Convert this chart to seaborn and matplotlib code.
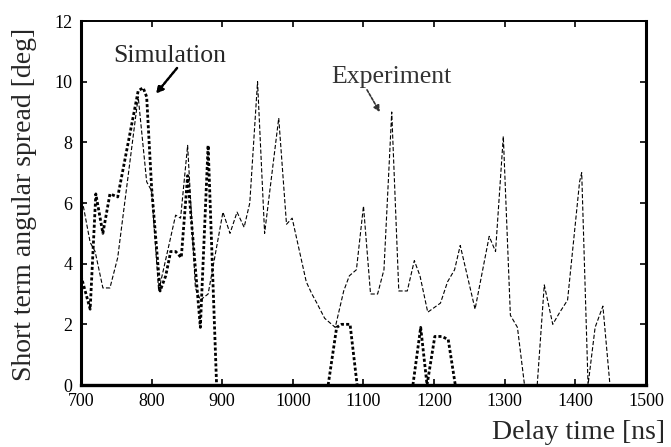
import matplotlib
matplotlib.use("Agg")
import matplotlib.pyplot as plt
import seaborn as sns
import pandas as pd

# Experiment (thin dashed); seg = continuous piece above the axis
exp_t = [700, 713, 720, 731, 741, 752, 781, 793, 800, 810, 834, 841, 851, 862, 869, 880,
         901, 911, 921, 931, 939, 950, 960, 980, 991, 999, 1019, 1027, 1034, 1045, 1060,
         1072, 1080, 1090, 1100, 1110, 1120, 1129, 1140, 1150, 1162, 1172, 1180, 1191,
         1209, 1219, 1229, 1237, 1258, 1278, 1287, 1298, 1308, 1318, 1328, 1346, 1356,
         1368, 1378, 1389, 1406, 1409, 1418, 1428, 1439, 1449]
exp_v = [6.3, 4.7, 4.4, 3.2, 3.2, 4.2, 9.5, 6.7, 6.4, 3.1, 5.6, 5.5, 7.9, 3.2, 2.8, 3.0,
         5.7, 5.0, 5.7, 5.2, 6.0, 10.0, 5.0, 8.8, 5.3, 5.5, 3.4, 3.0, 2.7, 2.2, 1.9,
         3.1, 3.6, 3.8, 5.9, 3.0, 3.0, 3.8, 9.0, 3.1, 3.1, 4.1, 3.6, 2.4,
         2.7, 3.4, 3.8, 4.6, 2.5, 4.9, 4.4, 8.2, 2.3, 1.9, 0, 0, 3.3,
         2.0, 2.4, 2.8, 6.7, 7.0, 0, 1.9, 2.6, 0]
exp_seg = [1] * 55 + [2] * 11

# Simulation (thick dashed)
sim_t = [700, 713, 721, 731, 741, 752, 781, 788, 793, 800, 812, 820, 827, 834, 842, 851,
         869, 880, 892, 1050, 1062, 1069, 1081, 1091, 1170, 1181, 1190, 1201, 1211, 1220, 1230]
sim_v = [3.6, 2.5, 6.3, 5.0, 6.3, 6.2, 9.7, 9.8, 9.5, 6.5, 3.1, 3.6, 4.4, 4.4, 4.2, 6.9,
         1.9, 7.9, 0, 0, 1.9, 2.0, 2.0, 0, 0, 1.9, 0, 1.6, 1.6, 1.5, 0]
sim_seg = [1] * 19 + [2] * 5 + [3] * 7

x_ticks = [700, 800, 900, 1000, 1100, 1200, 1300, 1400, 1500]
y_ticks = [0, 2, 4, 6, 8, 10, 12]

sns.set_style("ticks")
plt.rcParams['font.family'] = ['Liberation Serif', 'DejaVu Serif']
plt.rcParams['lines.scale_dashes'] = False

fig = plt.figure(figsize=(6.71, 4.47), dpi=100)
ax = fig.add_axes([0.1207, 0.1387, 0.842, 0.8143])

df_exp = pd.DataFrame({"t": exp_t, "v": exp_v, "seg": exp_seg})
df_sim = pd.DataFrame({"t": sim_t, "v": sim_v, "seg": sim_seg})

sns.lineplot(data=df_exp, x="t", y="v", units="seg", ax=ax, color="black", linewidth=0.8,
             linestyle=(0, (3, 1.5)), estimator=None, sort=False)
sns.lineplot(data=df_sim, x="t", y="v", units="seg", ax=ax, color="black", linewidth=2.0,
             linestyle=(0, (2.2, 1.6)), estimator=None, sort=False)

ax.set_xlim(700, 1500)
ax.set_ylim(0, 12)
ax.set_xticks(x_ticks)
ax.set_yticks(y_ticks)
ax.tick_params(direction="in", length=4, width=1.2, top=True, right=True,
               labelsize=13, pad=6, colors="black")
for side, lw in [("left", 2.2), ("bottom", 2.4), ("right", 2.2), ("top", 1.4)]:
    ax.spines[side].set_linewidth(lw)
    ax.spines[side].set_color("black")
    ax.spines[side].set_zorder(5)

ax.set_xlabel("Delay time [ns]", fontsize=20, ha="right")
ax.xaxis.set_label_coords(1.034, -0.095)
ax.set_ylabel("Short term angular spread [deg]", fontsize=20)
ax.yaxis.set_label_coords(-0.078, 0.495)

ax.text(826, 10.85, "Simulation", fontsize=18.5, ha="center", va="center")
ax.annotate("", xy=(806, 9.6), xytext=(836, 10.45),
            arrowprops=dict(arrowstyle="-|>", color="black", lw=1.8,
                            linestyle=(0, (2, 1.2)), mutation_scale=10,
                            shrinkA=0, shrinkB=0))
ax.text(1140, 10.15, "Experiment", fontsize=18.5, ha="center", va="center", color="0.2")
ax.annotate("", xy=(1123, 9.0), xytext=(1105, 9.73),
            arrowprops=dict(arrowstyle="-|>", color="0.2", lw=1.2,
                            linestyle=(0, (2, 1.2)), mutation_scale=9,
                            shrinkA=0, shrinkB=0))

fig.savefig("out.png", dpi=100)
